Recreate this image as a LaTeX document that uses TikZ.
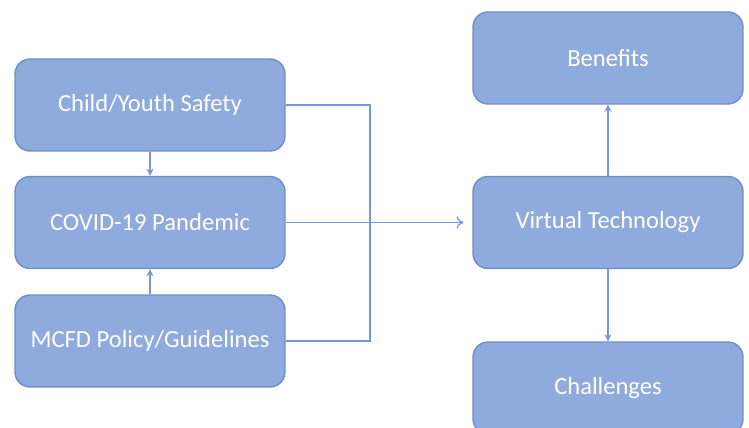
\documentclass[tikz,border=0pt]{standalone}
\usepackage{fontspec}
\setmainfont{Carlito}
\usetikzlibrary{arrows.meta,positioning}
\definecolor{boxfill}{HTML}{8FAADC}
\definecolor{boxline}{HTML}{6E8ECB}
\definecolor{linkblue}{HTML}{7698D8}
\begin{document}
\begin{tikzpicture}[x=0.02cm,y=-0.02cm,
  stage/.style={draw=boxline,fill=boxfill,rounded corners=0.3cm,line width=0.8pt,
    minimum width=5.4cm,minimum height=1.84cm,text=white,font=\fontsize{14}{16}\selectfont},
  link/.style={draw=linkblue,line width=0.7pt,-{Stealth[length=4pt,width=4pt]}}]
\useasboundingbox (0,0) rectangle (749,428);
\node[stage] (safety) at (150,105) {Child/Youth Safety};
\node[stage] (covid) at (150,222.5) {COVID-19 Pandemic};
\node[stage] (policy) at (150,341) {MCFD Policy/Guidelines};
\node[stage] (benefits) at (608,58) {Benefits};
\node[stage] (virtual) at (608,222.5) {Virtual Technology};
\node[stage] (challenges) at (608,388) {Challenges};
\coordinate (join) at (370,222.5);
\draw[link] (safety) -- (covid);
\draw[link] (policy) -- (covid);
\draw[draw=linkblue,line width=0.7pt] (safety.east) -| (join);
\draw[draw=linkblue,line width=0.7pt] (policy.east) -| (join);
\draw[draw=linkblue,line width=0.7pt,-{To[length=4pt,width=7pt]}] (covid.east) -- ([xshift=-5pt]virtual.west);
\draw[link] (virtual) -- (benefits);
\draw[link] (virtual) -- (challenges);
\end{tikzpicture}
\end{document}
